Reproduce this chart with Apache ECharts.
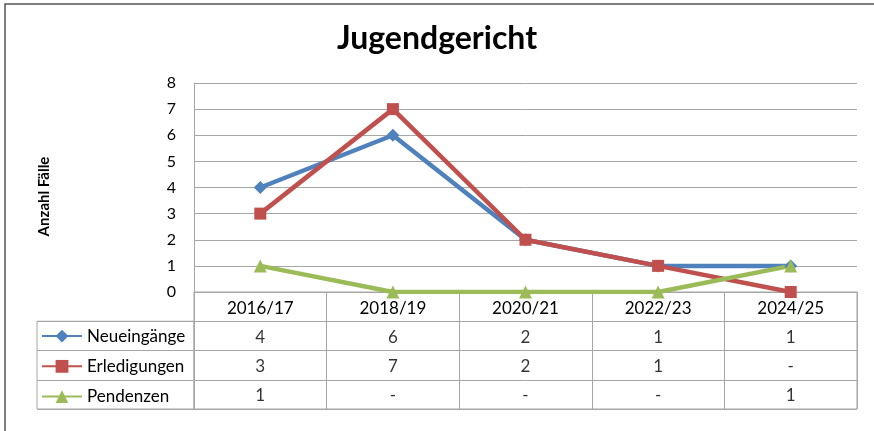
<!DOCTYPE html>
<html>
<head>
<meta charset="utf-8">
<script src="https://cdn.jsdelivr.net/npm/echarts@6/dist/echarts.min.js"></script>
<style>
  html, body { margin: 0; padding: 0; background: #fff; }
  #main { width: 874px; height: 431px; }
</style>
</head>
<body>
<div id="main"></div>
<script>
// Werte aus dem Diagramm
const categories = ['2016/17', '2018/19', '2020/21', '2022/23', '2024/25']
const neueingaenge = [4, 6, 2, 1, 1]
const erledigungen = [3, 7, 2, 1, 0]
const pendenzen = [1, 0, 0, 0, 1]
const seriesNames = ['Neueingänge', 'Erledigungen', 'Pendenzen']
const yTicks = [0, 1, 2, 3, 4, 5, 6, 7, 8]

const font = 'Lato, "Open Sans", sans-serif'
const gridColor = '#a6a6a6'
const rows = [neueingaenge, erledigungen, pendenzen]

// Zellen der Datentabelle: [Spalte, Zeile, Wert]
const cells = []
rows.forEach((vals, r) => {
  vals.forEach((v, c) => cells.push([c, r + 1, v]))
})

const chart = echarts.init(document.getElementById('main'))

const option = {
  animation: false,
  title: {
    text: 'Jugendgericht',
    left: 'center',
    top: 18,
    textStyle: { fontFamily: font, fontSize: 32, fontWeight: 'bold', color: '#000' }
  },
  legend: {
    orient: 'vertical',
    left: 41,
    top: 327.6,
    padding: 0,
    itemWidth: 40,
    itemHeight: 16,
    itemGap: 13.25,
    data: seriesNames,
    selectedMode: false,
    textStyle: { fontFamily: font, fontSize: 17, lineHeight: 16, color: '#000' }
  },
  graphic: [
    {
      type: 'rect',
      shape: { x: 5, y: 4, width: 900, height: 500 },
      style: { fill: 'none', stroke: '#555', lineWidth: 1.5 },
      silent: true
    }
  ],
  grid: [
    { left: 194, top: 83, width: 663, height: 209 },
    { left: 194, top: 292, width: 663, height: 117, show: true, borderColor: gridColor, borderWidth: 1 },
    { left: 37, top: 321.25, width: 157, height: 87.75, show: true, borderColor: gridColor, borderWidth: 1 }
  ],
  xAxis: [
    {
      gridIndex: 0,
      type: 'category',
      data: categories,
      boundaryGap: true,
      axisLine: { show: true, lineStyle: { color: gridColor } },
      axisTick: { show: false },
      axisLabel: { margin: 8, fontFamily: font, fontSize: 17, color: '#000' }
    },
    {
      gridIndex: 1,
      type: 'category',
      data: categories,
      boundaryGap: true,
      axisLine: { show: false },
      axisTick: { show: false },
      axisLabel: { show: false },
      splitLine: { show: true, lineStyle: { color: gridColor } }
    },
    {
      gridIndex: 2,
      type: 'value',
      show: false
    }
  ],
  yAxis: [
    {
      gridIndex: 0,
      type: 'value',
      min: 0,
      max: 8,
      interval: 1,
      name: 'Anzahl Fälle',
      nameLocation: 'middle',
      nameGap: 142,
      nameTextStyle: { fontFamily: font, fontSize: 15, fontWeight: 'bold', color: '#000', padding: [0, 0, 0, -18] },
      axisLine: { show: true, lineStyle: { color: gridColor } },
      axisTick: { show: false },
      axisLabel: {
        margin: 18,
        fontFamily: font,
        fontSize: 16,
        color: '#000',
        formatter: v => (yTicks.includes(v) ? String(v) : '')
      },
      splitLine: { show: true, lineStyle: { color: gridColor } }
    },
    {
      gridIndex: 1,
      type: 'category',
      data: [''].concat(seriesNames),
      inverse: true,
      axisLine: { show: false },
      axisTick: { show: false },
      axisLabel: { show: false },
      splitLine: { show: true, lineStyle: { color: gridColor } }
    },
    {
      gridIndex: 2,
      type: 'category',
      data: seriesNames,
      inverse: true,
      axisLine: { show: false },
      axisTick: { show: false },
      axisLabel: { show: false },
      splitLine: { show: true, lineStyle: { color: gridColor } }
    }
  ],
  series: [
    {
      name: 'Neueingänge',
      type: 'line',
      data: neueingaenge,
      symbol: 'diamond',
      symbolSize: 13,
      lineStyle: { color: '#4F81BD', width: 4.5 },
      itemStyle: { color: '#4F81BD' }
    },
    {
      name: 'Erledigungen',
      type: 'line',
      data: erledigungen,
      symbol: 'rect',
      symbolSize: 12,
      lineStyle: { color: '#C0504D', width: 4.5 },
      itemStyle: { color: '#C0504D' }
    },
    {
      name: 'Pendenzen',
      type: 'line',
      data: pendenzen,
      symbol: 'triangle',
      symbolSize: 13,
      lineStyle: { color: '#9BBB59', width: 4.5 },
      itemStyle: { color: '#9BBB59' }
    },
    {
      type: 'scatter',
      xAxisIndex: 1,
      yAxisIndex: 1,
      data: cells,
      symbolSize: 1,
      silent: true,
      itemStyle: { color: 'rgba(0,0,0,0)' },
      label: {
        show: true,
        position: 'inside',
        offset: [0, 1.5],
        fontFamily: font,
        fontSize: 17,
        color: '#000',
        formatter: p => (p.value[2] === 0 ? '-' : String(p.value[2]))
      }
    }
  ]
}

chart.setOption(option)
</script>
</body>
</html>
